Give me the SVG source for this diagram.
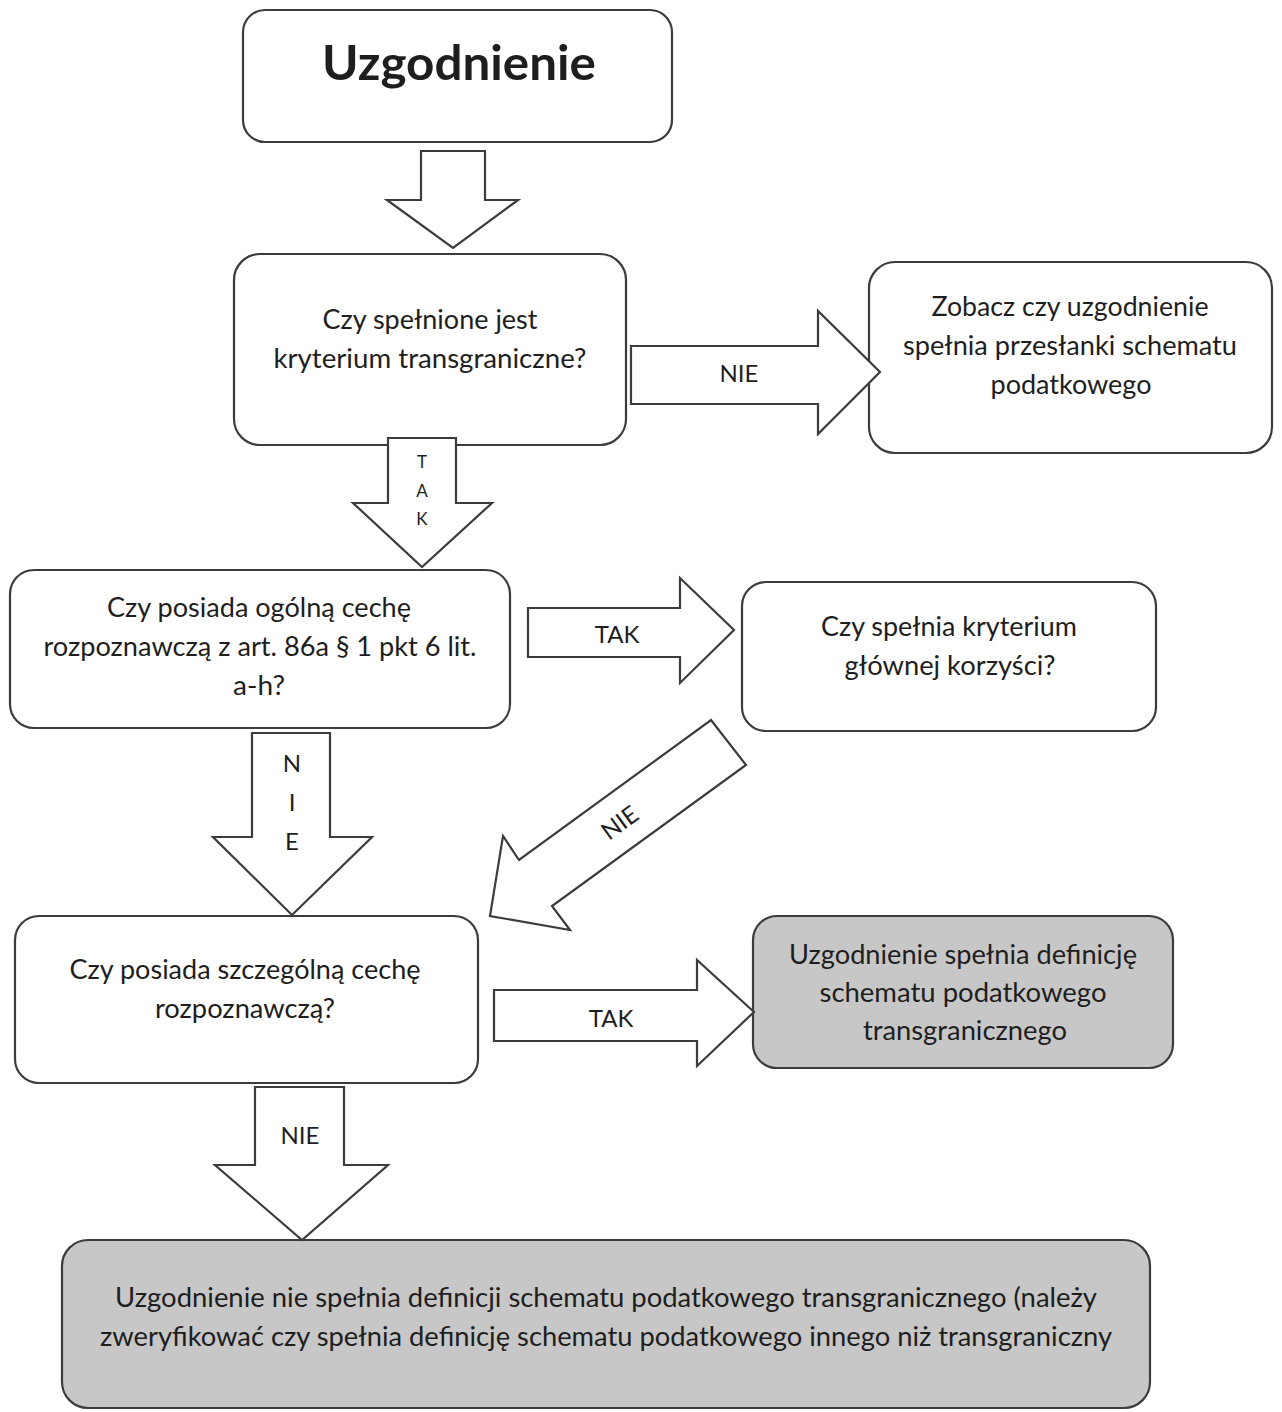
<svg xmlns="http://www.w3.org/2000/svg" width="1282" height="1412" viewBox="0 0 1282 1412">
<style>
.box{fill:#ffffff;stroke:#3c3c3c;stroke-width:2.2}
.gray{fill:#c7c7c7;stroke:#3c3c3c;stroke-width:2.2}
.arr{fill:#ffffff;stroke:#3c3c3c;stroke-width:2.2;stroke-linejoin:miter}
text{font-family:Lato,"Open Sans","Liberation Sans",sans-serif;fill:#1e1e1e;text-anchor:middle}
.t{font-size:26px}
.lbl{font-size:24px}
.sm{font-size:17px}
.title{font-size:48px;font-weight:bold}
</style>
<rect width="1282" height="1412" fill="#ffffff"/>
<g id="n1">
<rect class="box" x="243" y="10" width="429" height="132" rx="22"/>
<text class="title" x="459" y="80" textLength="274" lengthAdjust="spacingAndGlyphs">Uzgodnienie</text>
</g>
<g id="n2">
<rect class="box" x="234" y="254" width="392" height="191" rx="26"/>
<text class="t" x="430" y="329" textLength="215" lengthAdjust="spacingAndGlyphs">Czy spełnione jest</text>
<text class="t" x="430" y="368" textLength="313" lengthAdjust="spacingAndGlyphs">kryterium transgraniczne?</text>
</g>
<g id="n3">
<rect class="box" x="869" y="262" width="403" height="191" rx="26"/>
<text class="t" x="1070" y="316" textLength="277" lengthAdjust="spacingAndGlyphs">Zobacz czy uzgodnienie</text>
<text class="t" x="1070" y="355" textLength="334" lengthAdjust="spacingAndGlyphs">spełnia przesłanki schematu</text>
<text class="t" x="1071" y="394" textLength="161" lengthAdjust="spacingAndGlyphs">podatkowego</text>
</g>
<g id="n4">
<rect class="box" x="10" y="570" width="500" height="158" rx="24"/>
<text class="t" x="259" y="617" textLength="304" lengthAdjust="spacingAndGlyphs">Czy posiada ogólną cechę</text>
<text class="t" x="260" y="656" textLength="433" lengthAdjust="spacingAndGlyphs">rozpoznawczą z art. 86a § 1 pkt 6 lit.</text>
<text class="t" x="259" y="695" textLength="52" lengthAdjust="spacingAndGlyphs">a-h?</text>
</g>
<g id="n5">
<rect class="box" x="742" y="582" width="414" height="149" rx="24"/>
<text class="t" x="949" y="636" textLength="256" lengthAdjust="spacingAndGlyphs">Czy spełnia kryterium</text>
<text class="t" x="950" y="675" textLength="211" lengthAdjust="spacingAndGlyphs">głównej korzyści?</text>
</g>
<g id="n6">
<rect class="box" x="15" y="916" width="463" height="167" rx="24"/>
<text class="t" x="245" y="979" textLength="351" lengthAdjust="spacingAndGlyphs">Czy posiada szczególną cechę</text>
<text class="t" x="245" y="1018" textLength="180" lengthAdjust="spacingAndGlyphs">rozpoznawczą?</text>
</g>
<g id="n7">
<rect class="gray" x="753" y="916" width="420" height="152" rx="24"/>
<text class="t" x="963" y="964" textLength="348" lengthAdjust="spacingAndGlyphs">Uzgodnienie spełnia definicję</text>
<text class="t" x="963" y="1002" textLength="287" lengthAdjust="spacingAndGlyphs">schematu podatkowego</text>
<text class="t" x="965" y="1040" textLength="204" lengthAdjust="spacingAndGlyphs">transgranicznego</text>
</g>
<g id="n8">
<rect class="gray" x="62" y="1240" width="1088" height="168" rx="26"/>
<text class="t" x="606" y="1307" textLength="982" lengthAdjust="spacingAndGlyphs">Uzgodnienie nie spełnia definicji schematu podatkowego transgranicznego (należy</text>
<text class="t" x="606" y="1346" textLength="1012" lengthAdjust="spacingAndGlyphs">zweryfikować czy spełnia definicję schematu podatkowego innego niż transgraniczny</text>
</g>
<g id="connectors">
<polygon class="arr" points="421,151 485,151 485,200 518,200 453,248 387,200 421,200"/>
<g>
<polygon class="arr" points="631,346 818,346 818,311 880,372 818,434 818,404 631,404"/>
<text class="lbl" x="739" y="382">NIE</text>
</g>
<g>
<polygon class="arr" points="388,438 456,438 456,503 492,503 422,567 353,503 388,503"/>
<text class="sm" x="422" y="468">T</text>
<text class="sm" x="422" y="497">A</text>
<text class="sm" x="422" y="525">K</text>
</g>
<g>
<polygon class="arr" points="528,608 680,608 680,578 734,630 680,683 680,657 528,657"/>
<text class="lbl" x="617" y="643">TAK</text>
</g>
<g>
<polygon class="arr" points="711,720 746,765 552,906 570,930 490,916 503,836 519,860"/>
<text class="lbl" x="620" y="831" transform="rotate(-36 620 823)">NIE</text>
</g>
<g>
<polygon class="arr" points="252,733 330,733 330,837 372,837 292,915 213,837 252,837"/>
<text class="lbl" x="292" y="772">N</text>
<text class="lbl" x="292" y="811">I</text>
<text class="lbl" x="292" y="850">E</text>
</g>
<g>
<polygon class="arr" points="494,990 697,990 697,960 754,1012 697,1066 697,1041 494,1041"/>
<text class="lbl" x="611" y="1027">TAK</text>
</g>
<g>
<polygon class="arr" points="255,1087 344,1087 344,1165 388,1165 302,1240 215,1165 255,1165"/>
<text class="lbl" x="300" y="1144">NIE</text>
</g>
</g>
</svg>
